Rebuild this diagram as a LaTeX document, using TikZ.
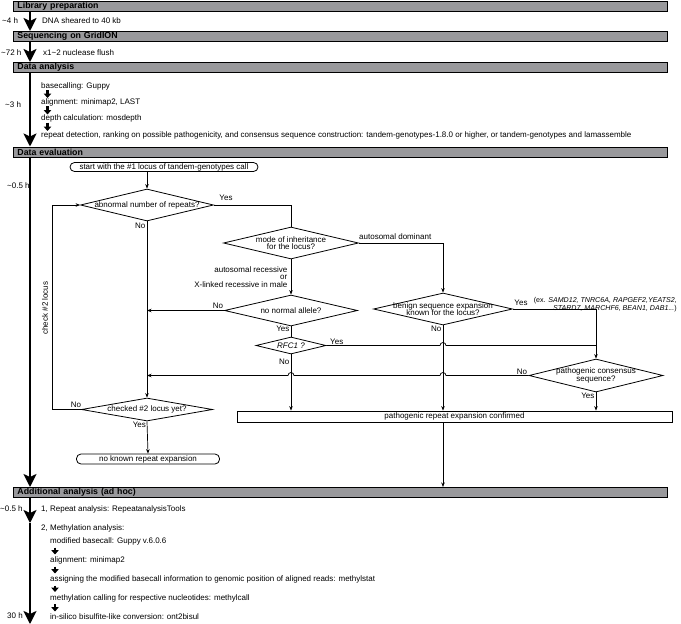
\documentclass[tikz,border=0pt]{standalone}
\usepackage{fontspec}
\setmainfont{Liberation Sans}
\usetikzlibrary{arrows.meta,shapes.geometric,calc}
\definecolor{hdrgray}{RGB}{153,153,156}
\begin{document}
\begin{tikzpicture}[x=1pt,y=-1pt,
  every node/.style={inner sep=0pt, font=\fontsize{8}{8}\selectfont},
  hdr/.style={draw, fill=hdrgray, line width=0.9pt, anchor=north west, minimum height=10pt, text width=646pt, inner xsep=4pt, align=left, font=\fontsize{8.8}{9}\selectfont\bfseries},
  bigarr/.style={line width=2pt, -{Stealth[length=13pt,width=13pt,inset=3pt]}},
  smarr/.style={line width=2.6pt, -{Triangle[length=4.5pt,width=7.5pt]}},
  ln/.style={line width=0.7pt},
  arr/.style={line width=0.7pt, -{Stealth[length=4.5pt,width=3.5pt]}},
  dia/.style={diamond, draw, line width=0.8pt},
  term/.style={draw, line width=0.8pt, rounded corners=4.5pt, minimum height=9pt},
  multi/.style={align=center, font=\fontsize{8}{7.5}\selectfont},
]
\useasboundingbox (0,0) rectangle (681,624);

% ---------- header bars ----------
\node[hdr] (lib) at (13,0.6) {Library preparation};
\node[hdr] (seq) at (13,31) {Sequencing on GridION};
\node[hdr] (da) at (13,62) {Data analysis};
\node[hdr] (de) at (13,146.5) {Data evaluation};
\node[hdr] (add) at (13,487) {Additional analysis (ad hoc)};

% ---------- main timeline arrows ----------
\draw[bigarr] ([xshift=17pt]lib.south west) -- ([xshift=17pt]seq.north west);
\draw[bigarr] ([xshift=17pt]seq.south west) -- ([xshift=17pt]da.north west);
\draw[bigarr] ([xshift=17pt]da.south west) -- ([xshift=17pt]de.north west);
\draw[bigarr] ([xshift=17pt]de.south west) -- ([xshift=17pt]add.north west);
\coordinate (mid) at (30,523);
\coordinate (bot) at (30,624);
\draw[bigarr] ([xshift=17pt]add.south west) -- (mid);
\draw[bigarr] (mid) -- (bot);

% ---------- time labels ----------
\node[anchor=base west] (h1) at (2,23) {\textasciitilde4 h};
\node[anchor=base west] (s1) at (42,23) {DNA sheared to 40 kb};
\node[anchor=base west] (h2) at (1,55) {\textasciitilde72 h};
\node[anchor=base west] (s2) at (43,55) {x1\textasciitilde2 nuclease flush};
\node[anchor=base west] (h3) at (5,107) {\textasciitilde3 h};
\node[anchor=base west] (h4) at (7,188) {\textasciitilde0.5 h};
\node[anchor=base west] (h5) at (0,511) {\textasciitilde0.5 h};
\node[anchor=base west] (h6) at (7,618) {30 h};

% ---------- data analysis ----------
\node[anchor=base west] (t1) at (41,88) {basecalling: Guppy};
\node[anchor=base west] (t2) at (41,104) {alignment: minimap2, LAST};
\node[anchor=base west] (t3) at (41,120.5) {depth calculation: mosdepth};
\node[anchor=base west] (t4) at (41,137) {repeat detection, ranking on possible pathogenicity, and consensus sequence construction: tandem-genotypes-1.8.0 or higher, or tandem-genotypes and lamassemble};
\draw[smarr] ([xshift=6.5pt,yshift=-2pt]t1.base west) -- ([xshift=6.5pt,yshift=6pt]t2.base west);
\draw[smarr] ([xshift=6.5pt,yshift=-2pt]t2.base west) -- ([xshift=6.5pt,yshift=6pt]t3.base west);
\draw[smarr] ([xshift=6.5pt,yshift=-2pt]t3.base west) -- ([xshift=6.5pt,yshift=6pt]t4.base west);

% ---------- additional analysis ----------
\node[anchor=base west] (a1) at (41,511.5) {1, Repeat analysis: RepeatanalysisTools};
\node[anchor=base west] (a2) at (41,530.5) {2, Methylation analysis:};
\node[anchor=base west] (m1) at (50,543.5) {modified basecall: Guppy v.6.0.6};
\node[anchor=base west] (m2) at (50,562.5) {alignment: minimap2};
\node[anchor=base west] (m3) at (50,581.5) {assigning the modified basecall information to genomic position of aligned reads: methylstat};
\node[anchor=base west] (m4) at (50,600) {methylation calling for respective nucleotides: methylcall};
\node[anchor=base west] (m5) at (50,619.5) {in-silico bisulfite-like conversion: ont2bisul};
\draw[smarr] ([xshift=5pt,yshift=-4pt]m1.base west) -- ([xshift=5pt,yshift=8pt]m2.base west);
\draw[smarr] ([xshift=5pt,yshift=-4pt]m2.base west) -- ([xshift=5pt,yshift=8pt]m3.base west);
\draw[smarr] ([xshift=5pt,yshift=-4pt]m3.base west) -- ([xshift=5pt,yshift=8pt]m4.base west);
\draw[smarr] ([xshift=5pt,yshift=-4pt]m4.base west) -- ([xshift=5pt,yshift=8pt]m5.base west);

% ---------- flowchart nodes ----------
\node[term, minimum width=188pt] (start) at (164,167) {start with the \#1 locus of tandem-genotypes call};
\node[dia, minimum width=133pt, minimum height=32pt] (abn) at (147,205) {};
\node at (abn) {abnormal number of repeats?};
\node[dia, minimum width=135pt, minimum height=32pt] (mode) at (291,243) {};
\node[multi] at (mode) {mode of inheritance\\for the locus?};
\node[dia, minimum width=133pt, minimum height=31pt] (nonormal) at (291,310.5) {};
\node at (nonormal) {no normal allele?};
\node[dia, minimum width=70pt, minimum height=17pt] (rfc) at (291,345.5) {};
\node at (rfc) {\textit{RFC1 ?}};
\node[dia, minimum width=139pt, minimum height=32pt] (benign) at (443,309) {};
\node[multi] at (benign) {benign sequence expansion\\known for the locus?};
\node[dia, minimum width=134pt, minimum height=33pt] (pathcons) at (596,375.5) {};
\node[multi] at (pathcons) {pathogenic consensus\\sequence?};
\node[dia, minimum width=131pt, minimum height=23pt] (checked) at (147,409.5) {};
\node at (checked) {checked \#2 locus yet?};
\node[term, minimum width=143pt, minimum height=10pt] (noknown) at (148,459) {no known repeat expansion};
\node[draw, line width=0.8pt, minimum width=435pt, minimum height=11pt] (box) at (454.5,416.5) {pathogenic repeat expansion confirmed};
\coordinate (loop) at (52,300);

% ---------- connectors ----------
\draw[arr] (start.south -| abn.north) -- (abn.north);
\draw[ln] (abn.east) -| (mode.north);
\draw[arr] (mode.east) -| (benign.north);
\draw[arr] (mode.south) -- (nonormal.north);
\draw[arr] (nonormal.west) -- (nonormal.west -| abn.south);
\draw[ln] (nonormal.south) -- (rfc.north);
\draw[ln] (rfc.east) -- ($(rfc.east -| benign.south)+(-3,0)$) arc[start angle=180,end angle=0,radius=3pt] -- (rfc.east -| pathcons.north);
\draw[arr] (benign.east) -| (pathcons.north);
\draw[arr] (rfc.south) -- (rfc.south |- box.north);
\draw[arr] (benign.south) -- (benign.south |- box.north);
\draw[arr] (pathcons.west) -- ($(pathcons.west -| benign.south)+(3,0)$) arc[start angle=0,end angle=180,radius=3pt] -- ($(pathcons.west -| rfc.south)+(3,0)$) arc[start angle=0,end angle=180,radius=3pt] -- (pathcons.west -| abn.south);
\draw[arr] (pathcons.south) -- (pathcons.south |- box.north);
\draw[arr] (abn.south) -- (checked.north);
\draw[arr] (checked.west) -- (checked.west -| loop) |- (abn.west);
\draw[arr] (checked.south) -- (noknown.north);
\draw[arr] (benign.south |- box.south) -- (benign.south |- add.north);

% ---------- connector labels ----------
\node at (226,198) {Yes};
\node[anchor=east] at (145.5,226) {No};
\node[anchor=base west] at (359,239.5) {autosomal dominant};
\node[anchor=north east, align=right, font=\fontsize{8}{7.5}\selectfont] at (287.5,266.5) {autosomal recessive\\or\\X-linked recessive in male};
\node at (218,306) {No};
\node[anchor=east] at (289.5,328.5) {Yes};
\node[anchor=west] at (330,341.5) {Yes};
\node[anchor=east] at (289.5,362) {No};
\node[anchor=east] at (441.5,328.5) {No};
\node at (521,303) {Yes};
\node[anchor=north east, align=right, font=\fontsize{7.1}{8}\selectfont] at (677,297) {(ex. \textit{SAMD12, TNRC6A, RAPGEF2,YEATS2,}\\\textit{STARD7, MARCHF6, BEAN1, DAB1...})};
\node at (522,372) {No};
\node[anchor=east] at (594.5,396) {Yes};
\node at (76,404.5) {No};
\node[anchor=east] at (146,424.5) {Yes};
\node[rotate=90] at (45,308) {check \#2 locus};
\end{tikzpicture}
\end{document}
